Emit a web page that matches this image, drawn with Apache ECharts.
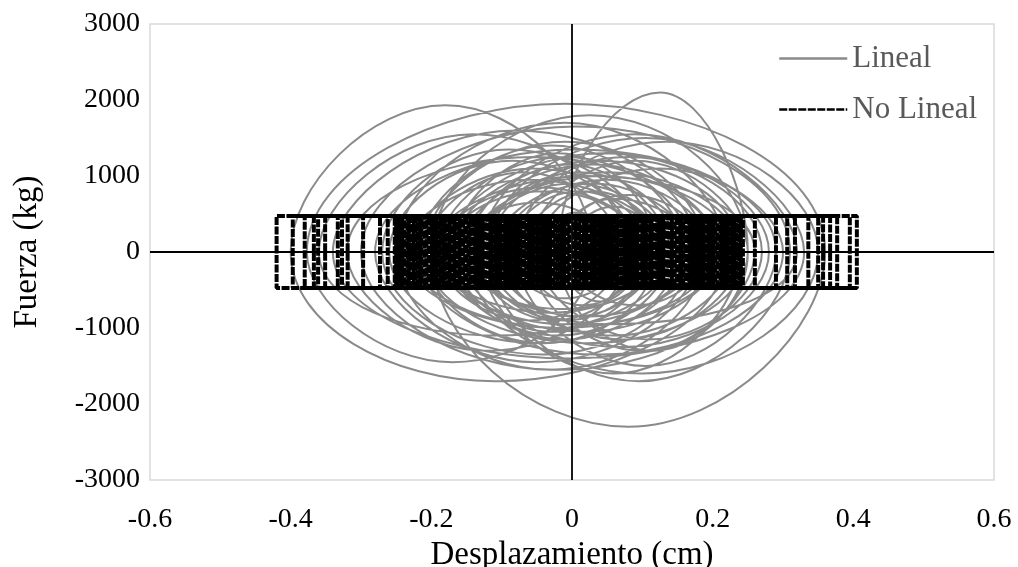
<!DOCTYPE html>
<html>
<head>
<meta charset="utf-8">
<script src="https://cdn.jsdelivr.net/npm/echarts@6/dist/echarts.min.js"></script>
<style>
  html, body { margin: 0; padding: 0; background: #fff; }
  #chart { width: 1018px; height: 567px; }
</style>
</head>
<body>
<div id="chart"></div>
<script>
// Respuesta lineal: traza fuerza-desplazamiento, alternando extremos de
// desplazamiento (fuerza nula) y picos de fuerza de cada semiciclo.
const linealTraza = [
  [-0.06, 0],
  [0.005, 520], [0.07, 0],
  [-0.01, -610], [-0.09, 0],
  [0.01, 800], [0.11, 0],
  [-0.01, -900], [-0.13, 0],
  [0.01, 1050], [0.15, 0],
  [-0.01, -1150], [-0.17, 0],
  [-0.02, 1300], [0.12, 0],
  [-0.04, -1200], [-0.21, 0],
  [-0.01, 1450], [0.19, 0],
  [-0.03, -1550], [-0.25, 0],
  [-0.01, 1700], [0.22, 0],
  [-0.11, -1700], [-0.40, 0],
  [-0.18, 1930], [0.03, 0],
  [-0.17, -1450], [-0.377, 0],
  [-0.01, 1950], [0.36, 0],
  [0.08, -2300], [-0.20, 0],
  [0.025, 1800], [0.25, 0],
  [0.115, -1300], [-0.02, 0],
  [0.125, 2100], [0.25, 0],
  [-0.025, -1550], [-0.30, 0],
  [0.005, 1650], [0.31, 0],
  [0.095, -1700], [-0.12, 0],
  [0.105, 1500], [0.33, 0],
  [-0.005, -1400], [-0.34, 0],
  [-0.08, 1600], [0.18, 0],
  [-0.05, -1450], [-0.28, 0],
  [0.005, 1350], [0.29, 0],
  [0.105, -1500], [-0.08, 0],
  [0.135, 1450], [0.35, 0],
  [0.10, -1600], [-0.15, 0],
  [-0.005, 1150], [0.14, 0],
  [-0.11, -1100], [-0.36, 0],
  [-0.14, 1550], [0.08, 0],
  [-0.12, -1300], [-0.32, 0],
  [-0.055, 1250], [0.21, 0],
  [0.015, -1050], [-0.18, 0],
  [0.045, 1300], [0.27, 0],
  [0.11, -1150], [-0.05, 0],
  [0.125, 1100], [0.30, 0],
  [0.04, -1350], [-0.22, 0],
  [-0.03, 1400], [0.16, 0],
  [-0.05, -1200], [-0.26, 0],
  [-0.085, 1200], [0.09, 0],
  [-0.025, -900], [-0.14, 0],
  [0.05, 1050], [0.24, 0],
  [0.07, -1150], [-0.10, 0],
  [0.05, 950], [0.20, 0],
  [-0.015, -1000], [-0.23, 0],
  [-0.055, 1100], [0.12, 0],
  [0.005, -850], [-0.11, 0],
  [0.03, 900], [0.17, 0],
  [-0.01, -950], [-0.19, 0],
  [-0.045, 850], [0.10, 0],
  [0.015, -700], [-0.07, 0],
  [0.03, 800], [0.13, 0],
  [-0.015, -750], [-0.16, 0],
  [-0.05, 650], [0.06, 0],
  [0.01, -500], [-0.04, 0],
  [0.005, 400], [0.05, 0],
  [0.015, -300], [-0.02, 0],
  [0.06, 700], [0.18, 0],
  [0.02, -850], [-0.15, 0],
  [0.04, 1000], [0.23, 0],
  [0.06, -1100], [-0.12, 0],
  [0.08, 1250], [0.28, 0],
  [0.07, -1250], [-0.16, 0],
  [0.03, 1150], [0.21, 0],
  [-0.02, -1000], [-0.24, 0],
  [-0.06, 950], [0.13, 0],
  [-0.03, -800], [-0.20, 0],
  [0.02, 1000], [0.26, 0],
  [0.10, -1300], [-0.06, 0],
  [0.09, 1200], [0.25, 0],
  [0.02, -1200], [-0.21, 0],
  [-0.07, 1050], [0.07, 0],
  [-0.06, -900], [-0.19, 0],
  [-0.01, 1250], [0.17, 0],
  [-0.04, -1350], [-0.27, 0],
  [-0.09, 1350], [0.11, 0],
  [-0.03, -1050], [-0.17, 0],
  [0.04, 1200], [0.24, 0],
  [0.06, -1600], [-0.13, 0],
  [0.09, 1550], [0.32, 0],
  [0.05, -950], [-0.14, 0],
  [0.00, 900], [0.14, 0],
  [-0.02, -1100], [-0.18, 0],
  [-0.04, 800], [0.10, 0],
  [0.04, -650], [-0.02, 0],
  [0.08, 750], [0.19, 0],
  [0.09, -700], [-0.01, 0],
  [0.06, 600], [0.12, 0],
  [0.05, -450], [-0.02, 0],
  [0.02, 350], [0.06, 0]
];

// Respuesta no lineal (elastoplástica): desplazamientos de inversión,
// alternando extremo izquierdo y derecho de cada ciclo.
const noLinealGiros = [
  -0.036, 0.104, -0.118, 0.031, -0.201, 0.187, -0.262, 0.243,
  -0.074, 0.066, -0.152, 0.142, -0.009, 0.008, -0.243, 0.226,
  -0.333, 0.306, -0.097, 0.089, -0.167, 0.161, -0.052, 0.047,
  -0.226, 0.211, -0.420, 0.377, -0.129, 0.121, -0.021, 0.019,
  -0.185, 0.174, -0.088, 0.078, -0.142, 0.133, -0.361, 0.350,
  -0.061, 0.055, -0.214, 0.198, -0.004, 0.003, -0.109, 0.097,
  -0.297, 0.290, -0.176, 0.168, -0.045, 0.039, -0.252, 0.236,
  -0.397, 0.405, -0.133, 0.126, -0.068, 0.062, -0.193, 0.181,
  -0.027, 0.024, -0.319, 0.317, -0.158, 0.149, -0.081, 0.073,
  -0.232, 0.219, -0.114, 0.109, -0.380, 0.395, -0.013, 0.012,
  -0.171, 0.155, -0.057, 0.051, -0.273, 0.260, -0.207, 0.193,
  -0.102, 0.093, -0.147, 0.137, -0.351, 0.357, -0.031, 0.028,
  -0.238, 0.231, -0.124, 0.115, -0.078, 0.070, -0.327, 0.336,
  -0.181, 0.172, -0.041, 0.035, -0.219, 0.204, -0.093, 0.084,
  -0.367, 0.367, -0.163, 0.146, -0.017, 0.015, -0.197, 0.184,
  -0.138, 0.130, -0.065, 0.058, -0.248, 0.240, -0.106, 0.100,
  -0.189, 0.178, -0.049, 0.043, -0.229, 0.215, -0.085, 0.082,
  -0.104, 0.095, -0.019, 0.026, -0.187, 0.180, -0.060, 0.060,
  -0.140, 0.135, -0.006, 0.010, -0.234, 0.221, -0.083, 0.086,
  -0.160, 0.158, -0.043, 0.041, -0.216, 0.207, -0.120, 0.118,
  -0.029, 0.017, -0.174, 0.170, -0.095, 0.075, -0.131, 0.128,
  -0.051, 0.053, -0.204, 0.195, -0.011, 0.005, -0.111, 0.102,
  -0.179, 0.163, -0.038, 0.037, -0.246, 0.233, -0.136, 0.123,
  -0.070, 0.064, -0.195, 0.186, -0.024, 0.021, -0.155, 0.144,
  -0.076, 0.068, -0.225, 0.213, -0.116, 0.112, -0.015, 0.014,
  -0.165, 0.151, -0.055, 0.049, -0.210, 0.190, -0.100, 0.091,
  -0.150, 0.140, -0.033, 0.033, -0.241, 0.228, -0.127, 0.106,
  -0.080, 0.080, -0.183, 0.176, -0.047, 0.045, -0.222, 0.201,
  -0.091, 0.166, -0.169, 0.238, -0.064, 0.217, -0.199, 0.224,
  -0.144, 0.020, -0.072, 0.057, -0.250, 0.113, -0.108, 0.154,
  -0.191, 0.199, -0.087, 0.089
];
// Fuerza de fluencia (kg)
const fuerzaFluencia = 475;

const ejeX = { min: -0.6, max: 0.6, paso: 0.2 };
const ejeY = { min: -3000, max: 3000, paso: 1000 };

// Trayectoria elastoplástica: a la izquierda sube de -Fy a +Fy, a la derecha baja.
const noLinealTraza = [];
noLinealGiros.forEach(function (x, i) {
  if (i % 2 === 0) {
    noLinealTraza.push([x, -fuerzaFluencia], [x, fuerzaFluencia]);
  } else {
    noLinealTraza.push([x, fuerzaFluencia], [x, -fuerzaFluencia]);
  }
});

const fuente = 'Liberation Serif, Times New Roman, serif';
const chart = echarts.init(document.getElementById('chart'), null, { renderer: 'canvas' });

chart.setOption({
  animation: false,
  backgroundColor: '#ffffff',
  grid: {
    left: 150, right: 24, top: 24, bottom: 87,
    containLabel: false,
    outerBoundsMode: 'none',
    show: true, borderColor: '#d9d9d9', borderWidth: 1.5, backgroundColor: 'transparent'
  },
  legend: {
    orient: 'vertical',
    left: 773, top: 38,
    itemWidth: 68, itemHeight: 26, itemGap: 20,
    data: ['Lineal', 'No Lineal'],
    itemStyle: { opacity: 0 },
    lineStyle: { width: 2.5 },
    textStyle: { fontFamily: fuente, fontSize: 31, color: '#595959' }
  },
  xAxis: {
    type: 'value',
    min: ejeX.min, max: ejeX.max, interval: ejeX.paso,
    name: 'Desplazamiento (cm)',
    nameLocation: 'middle', nameGap: 54,
    nameTextStyle: { fontFamily: fuente, fontSize: 33, color: '#000' },
    axisLine: { show: false, onZero: false },
    axisTick: { show: false },
    splitLine: { show: false },
    axisLabel: {
      fontFamily: fuente, fontSize: 28, color: '#000', margin: 26,
      formatter: function (v) { return String(Math.round(v * 10) / 10); }
    }
  },
  yAxis: {
    type: 'value',
    min: ejeY.min, max: ejeY.max, interval: ejeY.paso,
    name: 'Fuerza (kg)',
    nameLocation: 'middle', nameGap: 106, nameRotate: 90,
    nameTextStyle: { fontFamily: fuente, fontSize: 33, color: '#000' },
    axisLine: { show: false, onZero: false },
    axisTick: { show: false },
    splitLine: { show: false },
    axisLabel: {
      fontFamily: fuente, fontSize: 28, color: '#000', margin: 10,
      formatter: function (v) { return String(v); }
    }
  },
  series: [
    {
      name: 'Lineal',
      type: 'line',
      data: linealTraza,
      smooth: true,
      symbol: 'none',
      color: '#8a8a8a',
      lineStyle: { color: '#8a8a8a', width: 2 },
      z: 2
    },
    {
      name: 'No Lineal',
      type: 'line',
      data: noLinealTraza,
      symbol: 'none',
      color: '#000000',
      lineStyle: { color: '#000000', width: 4, type: [8, 1.5] },
      z: 3,
      markLine: {
        silent: true,
        symbol: ['none', 'none'],
        label: { show: false },
        lineStyle: { color: '#000000', width: 1.8, type: 'solid' },
        data: [{ xAxis: 0 }, { yAxis: 0 }]
      }
    }
  ]
});
</script>
</body>
</html>
